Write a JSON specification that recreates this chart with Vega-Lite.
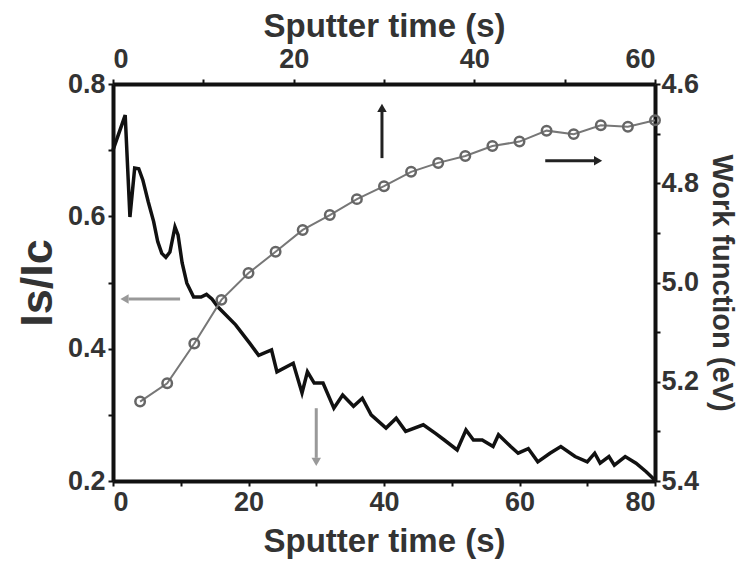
{
  "$schema": "https://vega.github.io/schema/vega-lite/v6.json",
  "width": 542,
  "height": 397,
  "autosize": {"type": "none"},
  "padding": {"left": 113, "top": 84, "right": 87, "bottom": 81},
  "background": "white",
  "config": {
    "view": {"stroke": null},
    "font": "Liberation Sans",
    "axis": {
      "domainColor": "#111", "domainWidth": 4,
      "tickColor": "#111", "tickWidth": 2, "tickSize": 5,
      "labelFont": "Liberation Sans", "labelFontSize": 27, "labelFontWeight": "bold", "labelColor": "#333",
      "titleFont": "Liberation Sans", "titleFontWeight": "bold", "titleColor": "#333", "titleFontSize": 33,
      "grid": false
    }
  },
  "datasets": {
    "ratio": [
      {"t": 0, "v": 0.70}, {"t": 1.8, "v": 0.753}, {"t": 2.5, "v": 0.599}, {"t": 3.2, "v": 0.673},
      {"t": 3.8, "v": 0.672}, {"t": 4.4, "v": 0.655}, {"t": 5.2, "v": 0.622}, {"t": 6.0, "v": 0.592},
      {"t": 6.6, "v": 0.562}, {"t": 7.2, "v": 0.544}, {"t": 7.8, "v": 0.538}, {"t": 8.4, "v": 0.546},
      {"t": 9.15, "v": 0.584}, {"t": 9.6, "v": 0.572}, {"t": 10.2, "v": 0.530}, {"t": 10.9, "v": 0.499},
      {"t": 11.9, "v": 0.478}, {"t": 13.0, "v": 0.478}, {"t": 13.8, "v": 0.482}, {"t": 14.6, "v": 0.475},
      {"t": 15.5, "v": 0.463}, {"t": 18.1, "v": 0.436},
      {"t": 20.2, "v": 0.408}, {"t": 21.5, "v": 0.390}, {"t": 23.4, "v": 0.398}, {"t": 24.2, "v": 0.365},
      {"t": 26.6, "v": 0.378}, {"t": 27.9, "v": 0.333}, {"t": 28.7, "v": 0.365}, {"t": 29.7, "v": 0.348},
      {"t": 31.0, "v": 0.348}, {"t": 32.6, "v": 0.310}, {"t": 33.9, "v": 0.330}, {"t": 35.5, "v": 0.313},
      {"t": 36.8, "v": 0.325}, {"t": 38.1, "v": 0.300}, {"t": 40.3, "v": 0.280}, {"t": 41.8, "v": 0.295},
      {"t": 43.2, "v": 0.275}, {"t": 45.8, "v": 0.285}, {"t": 47.6, "v": 0.272}, {"t": 48.9, "v": 0.262},
      {"t": 50.8, "v": 0.247}, {"t": 52.1, "v": 0.277}, {"t": 53.2, "v": 0.262}, {"t": 54.5, "v": 0.262},
      {"t": 56.1, "v": 0.252}, {"t": 56.9, "v": 0.270}, {"t": 58.7, "v": 0.252}, {"t": 59.8, "v": 0.242},
      {"t": 61.3, "v": 0.249}, {"t": 62.7, "v": 0.229}, {"t": 64.5, "v": 0.242}, {"t": 66.1, "v": 0.252},
      {"t": 68.2, "v": 0.237}, {"t": 70.0, "v": 0.229}, {"t": 71.1, "v": 0.242}, {"t": 71.9, "v": 0.227},
      {"t": 73.2, "v": 0.237}, {"t": 74.0, "v": 0.224}, {"t": 75.6, "v": 0.237}, {"t": 77.2, "v": 0.227},
      {"t": 78.7, "v": 0.214}, {"t": 80, "v": 0.201}
    ],
    "wf": [
      {"tt": 3, "w": 5.240}, {"tt": 6, "w": 5.203}, {"tt": 9, "w": 5.123}, {"tt": 12, "w": 5.035},
      {"tt": 15, "w": 4.981}, {"tt": 18, "w": 4.938}, {"tt": 21, "w": 4.894}, {"tt": 24, "w": 4.864},
      {"tt": 27, "w": 4.832}, {"tt": 30, "w": 4.806}, {"tt": 33, "w": 4.777}, {"tt": 36, "w": 4.759},
      {"tt": 39, "w": 4.745}, {"tt": 42, "w": 4.725}, {"tt": 45, "w": 4.716}, {"tt": 48, "w": 4.694},
      {"tt": 51, "w": 4.701}, {"tt": 54, "w": 4.683}, {"tt": 57, "w": 4.686}, {"tt": 60, "w": 4.673}
    ],
    "arrows": [
      {"t": 39.7, "v": 0.688, "t2": 39.7, "v2": 0.758, "tone": "dark"},
      {"t": 63.8, "v": 0.684, "t2": 71.0, "v2": 0.684, "tone": "dark"},
      {"t": 2.3, "v": 0.475, "t2": 9.9, "v2": 0.475, "tone": "light"},
      {"t": 30.0, "v": 0.310, "t2": 30.0, "v2": 0.235, "tone": "light"}
    ],
    "heads": [
      {"t": 39.7, "v": 0.764, "dir": "up", "tone": "dark"},
      {"t": 71.6, "v": 0.684, "dir": "right", "tone": "dark"},
      {"t": 1.7, "v": 0.475, "dir": "left", "tone": "light"},
      {"t": 30.0, "v": 0.229, "dir": "down", "tone": "light"}
    ]
  },
  "resolve": {
    "scale": {"x": "independent", "y": "independent"},
    "axis": {"x": "independent", "y": "independent"}
  },
  "layer": [
    {
      "encoding": {
        "x": {
          "field": "t", "type": "quantitative",
          "scale": {"domain": [0, 80], "nice": false, "zero": false},
          "axis": {
            "orient": "bottom", "title": "Sputter time (s)",
            "values": [0, 10, 20, 30, 40, 50, 60, 70, 80],
            "labelExpr": "datum.value % 20 == 0 ? datum.label : ''",
            "labelPadding": 3, "titlePadding": 10
          }
        },
        "y": {
          "field": "v", "type": "quantitative",
          "scale": {"domain": [0.2, 0.8], "nice": false, "zero": false},
          "axis": {
            "orient": "left", "title": "Is/Ic", "titleFontSize": 45,
            "values": [0.2, 0.3, 0.4, 0.5, 0.6, 0.7, 0.8],
            "labelExpr": "round(datum.value * 10) % 2 == 0 ? format(datum.value, '.1f') : ''",
            "labelPadding": 3, "titlePadding": 7
          }
        }
      },
      "layer": [
        {"data": {"name": "ratio"}, "mark": {"type": "line", "color": "#111", "strokeWidth": 3.5}},
        {
          "data": {"name": "arrows"},
          "mark": {"type": "rule", "strokeWidth": 3},
          "encoding": {
            "x2": {"field": "t2"},
            "y2": {"field": "v2"},
            "color": {"field": "tone", "type": "nominal", "scale": {"domain": ["dark", "light"], "range": ["#222", "#999"]}, "legend": null}
          }
        },
        {
          "data": {"name": "heads"},
          "mark": {"type": "point", "filled": true, "size": 90, "opacity": 1},
          "encoding": {
            "shape": {"field": "dir", "type": "nominal", "scale": {"domain": ["up", "right", "left", "down"], "range": ["triangle-up", "triangle-right", "triangle-left", "triangle-down"]}, "legend": null},
            "color": {"field": "tone", "type": "nominal", "scale": {"domain": ["dark", "light"], "range": ["#222", "#999"]}, "legend": null}
          }
        }
      ]
    },
    {
      "data": {"name": "wf"},
      "encoding": {
        "x": {
          "field": "tt", "type": "quantitative",
          "scale": {"domain": [0, 60], "nice": false, "zero": false},
          "axis": {
            "orient": "top", "title": "Sputter time (s)",
            "values": [0, 10, 20, 30, 40, 50, 60],
            "labelExpr": "datum.value % 20 == 0 ? datum.label : ''",
            "labelPadding": 6, "titlePadding": 2
          }
        },
        "y": {
          "field": "w", "type": "quantitative",
          "scale": {"domain": [4.6, 5.4], "reverse": true, "nice": false, "zero": false},
          "axis": {
            "orient": "right", "title": "Work function (eV)", "titleFontSize": 29,
            "values": [4.6, 4.7, 4.8, 4.9, 5.0, 5.1, 5.2, 5.3, 5.4],
            "labelExpr": "round(datum.value * 10) % 2 == 0 ? format(datum.value, '.1f') : ''",
            "labelPadding": 1, "titlePadding": 8
          }
        }
      },
      "layer": [
        {"mark": {"type": "line", "color": "#777", "strokeWidth": 2}},
        {"mark": {"type": "point", "filled": false, "color": "#666", "size": 90, "strokeWidth": 2.5, "opacity": 1}}
      ]
    }
  ]
}
